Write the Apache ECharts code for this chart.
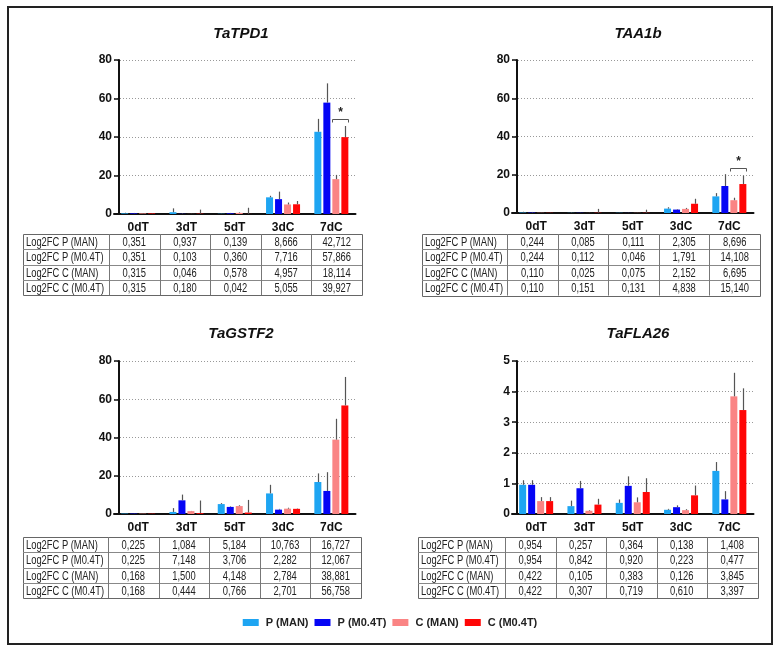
<!DOCTYPE html>
<html><head><meta charset="utf-8">
<script src="https://cdn.jsdelivr.net/npm/echarts@6/dist/echarts.min.js"></script>
<style>html,body{margin:0;padding:0;background:#fff}#c{width:780px;height:655px}</style>
</head><body><div id="c"></div>
<script>
const categories = ['0dT', '3dT', '5dT', '3dC', '7dC'];
const seriesNames = ['P (MAN)', 'P (M0.4T)', 'C (MAN)', 'C (M0.4T)'];
const rowLabels = ['Log2FC P (MAN)', 'Log2FC P (M0.4T)', 'Log2FC C (MAN)', 'Log2FC C (M0.4T)'];
const geneTitles = ['TaTPD1', 'TAA1b', 'TaGSTF2', 'TaFLA26'];
const yMax = [80, 80, 80, 5];
const yStep = [20, 20, 20, 1];

const tpd1 = [
  [0.351, 0.937, 0.139, 8.666, 42.712],
  [0.351, 0.103, 0.360, 7.716, 57.866],
  [0.315, 0.046, 0.578, 4.957, 18.114],
  [0.315, 0.180, 0.042, 5.055, 39.927]
];
const tpd1Err = [
  [0.3, 2.0, 0.2, 0.8, 6.7],
  [0.2, 0.3, 0.2, 3.9, 10.0],
  [0.2, 0.1, 0.3, 1.0, 2.2],
  [0.2, 2.1, 3.2, 1.7, 5.8]
];
const taa1b = [
  [0.244, 0.085, 0.111, 2.305, 8.696],
  [0.244, 0.112, 0.046, 1.791, 14.108],
  [0.110, 0.025, 0.075, 2.152, 6.695],
  [0.110, 0.151, 0.131, 4.838, 15.140]
];
const taa1bErr = [
  [0.4, 0.3, 0.1, 0.7, 1.7],
  [0.3, 0.1, 0.1, 0.3, 6.2],
  [0.1, 0.1, 0.1, 0.5, 1.3],
  [0.1, 2.0, 1.6, 2.6, 4.4]
];
const gstf2 = [
  [0.225, 1.084, 5.184, 10.763, 16.727],
  [0.225, 7.148, 3.706, 2.282, 12.067],
  [0.168, 1.500, 4.148, 2.784, 38.881],
  [0.168, 0.444, 0.766, 2.701, 56.758]
];
const gstf2Err = [
  [0.1, 2.0, 0.5, 4.5, 4.5],
  [0.1, 3.0, 0.3, 0.4, 9.8],
  [0.1, 0.1, 0.4, 0.5, 10.9],
  [0.1, 6.6, 6.6, 0.2, 14.9]
];
const fla26 = [
  [0.954, 0.257, 0.364, 0.138, 1.408],
  [0.954, 0.842, 0.920, 0.223, 0.477],
  [0.422, 0.105, 0.383, 0.126, 3.845],
  [0.422, 0.307, 0.719, 0.610, 3.397]
];
const fla26Err = [
  [0.15, 0.18, 0.11, 0.03, 0.29],
  [0.15, 0.24, 0.31, 0.06, 0.27],
  [0.13, 0.02, 0.16, 0.03, 0.77],
  [0.13, 0.19, 0.45, 0.32, 0.71]
];
// significance bracket: [category index, y level], between C (MAN) and C (M0.4T)
const tpd1Sig = [[4, 49.4]];
const taa1bSig = [[4, 23.4]];

const panelValues = [tpd1, taa1b, gstf2, fla26];
const panelErrors = [tpd1Err, taa1bErr, gstf2Err, fla26Err];
const panelSig = [tpd1Sig, taa1bSig, [], []];

// ---------- layout / style ----------
const colors = ['#1EA5F2', '#0505F5', '#FA8484', '#FF0606'];
const SANS = "'Liberation Sans',Arial,sans-serif";
const grids = [
  {left: 114, top: 60, width: 241.5, height: 154},
  {left: 512, top: 60, width: 241.5, height: 153},
  {left: 114, top: 361, width: 241.5, height: 153},
  {left: 512, top: 361, width: 241.5, height: 153}
];
const titlePos = [{x: 236, y: 21}, {x: 633, y: 21}, {x: 236, y: 321}, {x: 633, y: 321}];
const tables = [
  {x0: 23, labelEnd: 109, colW: 50.6, y0: 234, rowH: 15.3},
  {x0: 422, labelEnd: 507, colW: 50.6, y0: 234, rowH: 15.4},
  {x0: 23, labelEnd: 108, colW: 50.6, y0: 537, rowH: 15.3},
  {x0: 418, labelEnd: 505, colW: 50.5, y0: 537, rowH: 15.3}
];
const NARROW_SCALE = 0.78;
const BW = 7, GAP = 2;
const barGapPct = (GAP / BW * 100).toFixed(1) + '%';
function offsetOf(s) { return (s - 1.5) * (BW + GAP); }

const chart = echarts.init(document.getElementById('c'), null, {renderer: 'canvas'});

const title = [], grid = [], xAxis = [], yAxis = [], series = [], graphic = [];

function narrowText(txt, x, y, align) {
  return {type: 'text', x: x, y: y, scaleX: NARROW_SCALE,
    style: {text: txt, x: 0, y: 0, textAlign: align, textVerticalAlign: 'middle', font: '12px ' + SANS, fill: '#222'}};
}

panelValues.forEach((vals, p) => {
  title.push({
    text: geneTitles[p], left: titlePos[p].x, top: titlePos[p].y, textAlign: 'center',
    textStyle: {fontFamily: SANS, fontStyle: 'italic', fontWeight: 'bold', fontSize: 15, color: '#111'}
  });
  grid.push(Object.assign({containLabel: false}, grids[p]));
  xAxis.push({
    type: 'category', gridIndex: p, data: categories,
    axisLine: {lineStyle: {color: '#111', width: 2}},
    axisTick: {alignWithLabel: true, length: 4, lineStyle: {color: '#111', width: 1.5}},
    axisLabel: {margin: 8, color: '#111', fontWeight: 'bold', fontSize: 12, fontFamily: SANS},
    splitLine: {show: false}
  });
  yAxis.push({
    type: 'value', gridIndex: p, min: 0, max: yMax[p], interval: yStep[p], offset: -5,
    axisLine: {show: true, lineStyle: {color: '#111', width: 2}},
    axisTick: {show: true, length: 5, lineStyle: {color: '#111', width: 1.5}},
    axisLabel: {margin: 7, color: '#111', fontWeight: 'bold', fontSize: 12, fontFamily: SANS},
    splitLine: {show: true, lineStyle: {type: [1, 2], color: '#999', width: 1}}
  });
  vals.forEach((row, s) => {
    series.push({
      type: 'bar', name: seriesNames[s], xAxisIndex: p, yAxisIndex: p,
      data: row, barWidth: BW, barGap: barGapPct, itemStyle: {color: colors[s]},
      silent: true, animation: false
    });
  });
  const errData = [];
  panelErrors[p].forEach((row, s) => row.forEach((e, c) => errData.push([c, vals[s][c], e, s])));
  series.push({
    type: 'custom', xAxisIndex: p, yAxisIndex: p, data: errData, z: 5, silent: true, animation: false,
    renderItem: function (params, api) {
      const c = api.value(0), v = api.value(1), e = api.value(2), s = api.value(3);
      const a = api.coord([c, v]), b = api.coord([c, v + e]);
      const x = Math.round(a[0] + offsetOf(s)) + 0.5;
      return {type: 'line', shape: {x1: x, y1: a[1], x2: x, y2: b[1]}, style: {stroke: '#555', lineWidth: 1.2}};
    }
  });
  if (panelSig[p].length) {
    series.push({
      type: 'custom', xAxisIndex: p, yAxisIndex: p, data: panelSig[p], z: 6, silent: true, animation: false,
      renderItem: function (params, api) {
        const pt = api.coord([api.value(0), api.value(1)]);
        const xl = Math.round(pt[0] + offsetOf(2) - BW / 2) + 0.5;
        const xr = Math.round(pt[0] + offsetOf(3) + BW / 2) + 0.5;
        const y = Math.round(pt[1]) + 0.5;
        return {type: 'group', children: [
          {type: 'polyline', shape: {points: [[xl, y + 3], [xl, y], [xr, y], [xr, y + 3]]}, style: {stroke: '#555', lineWidth: 1, fill: null}},
          {type: 'text', style: {text: '*', x: (xl + xr) / 2, y: y - 1, textAlign: 'center', textVerticalAlign: 'bottom', font: "bold 12px " + SANS, fill: '#222'}}
        ]};
      }
    });
  }
  // table
  const t = tables[p];
  const xEnd = t.labelEnd + t.colW * categories.length;
  const yEnd = t.y0 + t.rowH * rowLabels.length;
  const kids = [];
  kids.push({type: 'rect', shape: {x: Math.round(t.x0) + 0.5, y: Math.round(t.y0) + 0.5, width: Math.round(xEnd - t.x0), height: Math.round(yEnd - t.y0)}, style: {stroke: '#666', fill: null, lineWidth: 1}});
  for (let r = 1; r < rowLabels.length; r++) {
    const y = Math.round(t.y0 + r * t.rowH) + 0.5;
    kids.push({type: 'line', shape: {x1: t.x0, y1: y, x2: xEnd, y2: y}, style: {stroke: '#888', lineWidth: 1}});
  }
  for (let c = 0; c < categories.length; c++) {
    const x = Math.round(t.labelEnd + c * t.colW) + 0.5;
    kids.push({type: 'line', shape: {x1: x, y1: t.y0, x2: x, y2: yEnd}, style: {stroke: '#777', lineWidth: 1}});
  }
  rowLabels.forEach((lab, r) => {
    const yc = t.y0 + (r + 0.5) * t.rowH + 1;
    kids.push(narrowText(lab, t.x0 + 3, yc, 'left'));
    vals[r].forEach((v, c) => {
      kids.push(narrowText(v.toFixed(3).replace('.', ','), t.labelEnd + (c + 0.5) * t.colW, yc, 'center'));
    });
  });
  graphic.push({type: 'group', silent: true, children: kids});
});

graphic.push({type: 'rect', silent: true, shape: {x: 8, y: 7, width: 764, height: 637}, style: {stroke: '#222', fill: null, lineWidth: 2}, z: 10});

chart.setOption({
  animation: false,
  title: title,
  grid: grid,
  xAxis: xAxis,
  yAxis: yAxis,
  legend: {
    data: seriesNames.map((n, i) => ({name: n, itemStyle: {color: colors[i]}})),
    left: 'center', top: 612, icon: 'rect', itemWidth: 16, itemHeight: 7, itemGap: 6,
    selectedMode: false,
    textStyle: {fontWeight: 'bold', fontSize: 11, fontFamily: SANS, color: '#222', padding: [0, 0, 0, 2]}
  },
  graphic: graphic,
  series: series
});
</script>
</body></html>
